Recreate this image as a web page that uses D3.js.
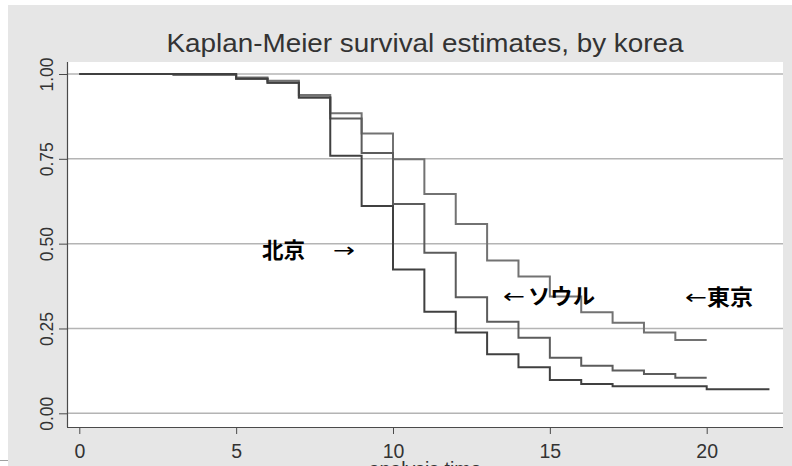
<!DOCTYPE html>
<html>
<head>
<meta charset="utf-8">
<script src="https://cdn.jsdelivr.net/npm/d3@7/dist/d3.min.js"></script>
<style>
  html, body { margin: 0; padding: 0; background: #ffffff; }
  svg { display: block; }
</style>
</head>
<body>
<script>
// Kaplan-Meier step estimates by group (time at which each step begins, survival after it)
const tokyoTimes   = [0, 3, 5, 6, 7, 8, 9, 10, 11, 12, 13, 14, 15, 16, 17, 18, 19];
const tokyoSurv    = [1.000, 0.997, 0.990, 0.980, 0.938, 0.884, 0.825, 0.749, 0.646, 0.558, 0.450, 0.403, 0.344, 0.298, 0.267, 0.238, 0.216];
const tokyoEnd     = 20;

const seoulTimes   = [0, 5, 6, 7, 8, 9, 10, 11, 12, 13, 14, 15, 16, 17, 18, 19];
const seoulSurv    = [1.000, 0.986, 0.974, 0.931, 0.869, 0.767, 0.617, 0.473, 0.342, 0.270, 0.223, 0.164, 0.140, 0.126, 0.116, 0.105];
const seoulEnd     = 20;

const beijingTimes = [0, 5, 6, 7, 8, 9, 10, 11, 12, 13, 14, 15, 16, 17, 20];
const beijingSurv  = [1.000, 0.986, 0.974, 0.931, 0.759, 0.611, 0.424, 0.299, 0.238, 0.174, 0.136, 0.098, 0.086, 0.080, 0.071];
const beijingEnd   = 22;

const xTicks = [0, 5, 10, 15, 20];
const yTicks = [0, 0.25, 0.5, 0.75, 1];

const W = 792, H = 466;
const plot = { left: 67, right: 783, top: 62, bottom: 427 };
const latin = "Liberation Sans, Arial, sans-serif";

const svg = d3.select("body").append("svg")
  .attr("width", W).attr("height", H);

// outer graph region
svg.append("rect").attr("x", 8).attr("y", 5).attr("width", W - 8).attr("height", H - 5)
  .attr("fill", "#e6e6e6");
svg.append("line").attr("x1", 0).attr("x2", 8).attr("y1", 460.5).attr("y2", 460.5)
  .attr("stroke", "#a0a0a0").attr("stroke-width", 1);

// plot region
svg.append("rect").attr("x", plot.left).attr("y", plot.top)
  .attr("width", plot.right - plot.left).attr("height", plot.bottom - plot.top)
  .attr("fill", "#ffffff");

const x = d3.scaleLinear().domain([0, 20]).range([79.3, 706.7]);
const y = d3.scaleLinear().domain([0, 1]).range([413.3, 74]);

// horizontal grid
svg.append("g").selectAll("line").data(yTicks).join("line")
  .attr("x1", plot.left).attr("x2", plot.right)
  .attr("y1", d => y(d)).attr("y2", d => y(d))
  .attr("stroke", "#b4b4b4").attr("stroke-width", 1.5);

// y axis
const yAxis = svg.append("g")
  .attr("transform", `translate(${plot.left},0)`)
  .call(d3.axisLeft(y).tickValues(yTicks).tickFormat(d3.format(".2f")).tickSize(8).tickPadding(6));
yAxis.select(".domain").attr("d", `M0.5,${plot.top}V${plot.bottom}`).attr("stroke", "#4a4a4a").attr("stroke-width", 1.2);
yAxis.selectAll(".tick line").attr("stroke", "#4a4a4a");
yAxis.selectAll(".tick text")
  .attr("font-family", latin)
  .attr("font-size", 19).attr("fill", "#333333")
  .attr("transform", "rotate(-90)")
  .attr("x", 0).attr("y", -14).attr("dy", 0)
  .attr("text-anchor", "middle")
  .attr("textLength", 34).attr("lengthAdjust", "spacingAndGlyphs");

// x axis
const xAxis = svg.append("g")
  .attr("transform", `translate(0,${plot.bottom})`)
  .call(d3.axisBottom(x).tickValues(xTicks).tickSize(7).tickPadding(6));
xAxis.select(".domain").attr("d", `M${plot.left},0.5H${plot.right}`).attr("stroke", "#4a4a4a").attr("stroke-width", 1.2);
xAxis.selectAll(".tick line").attr("stroke", "#4a4a4a");
xAxis.selectAll(".tick text")
  .attr("font-family", latin)
  .attr("font-size", 19.5).attr("fill", "#333333")
  .attr("dy", 0).attr("y", 30.5);

// survival curves
const series = [
  { times: tokyoTimes, surv: tokyoSurv, end: tokyoEnd, color: "#727272" },
  { times: seoulTimes, surv: seoulSurv, end: seoulEnd, color: "#5c5c5c" },
  { times: beijingTimes, surv: beijingSurv, end: beijingEnd, color: "#404040" }
];
const stepLine = d3.line().x(d => x(d[0])).y(d => y(d[1])).curve(d3.curveStepAfter);
series.forEach(s => {
  const pts = s.times.map((t, i) => [t, s.surv[i]]);
  pts.push([s.end, s.surv[s.surv.length - 1]]);
  svg.append("path").datum(pts)
    .attr("d", stepLine)
    .attr("fill", "none")
    .attr("stroke", s.color)
    .attr("stroke-width", 2);
});

// title
svg.append("text")
  .attr("x", (plot.left + plot.right) / 2).attr("y", 51.5)
  .attr("text-anchor", "middle")
  .attr("font-family", latin)
  .attr("font-size", 26).attr("fill", "#333333")
  .attr("textLength", 517).attr("lengthAdjust", "spacingAndGlyphs")
  .text("Kaplan-Meier survival estimates, by korea");

// x axis title
svg.append("text")
  .attr("x", (plot.left + plot.right) / 2).attr("y", 476)
  .attr("text-anchor", "middle")
  .attr("font-family", latin)
  .attr("font-size", 19.5).attr("fill", "#333333")
  .text("analysis time");

// group labels: names and pointer arrows
const cjk = "'Noto Sans CJK JP', 'Noto Sans CJK SC', sans-serif";
const names = [
  { text: "北京", x: 262, y: 258, w: 43 },
  { text: "ソウル", x: 528, y: 304, w: 67 },
  { text: "東京", x: 707, y: 305, w: 46 }
];
const arrows = [
  { text: "→", x: 333, y: 257 },
  { text: "←", x: 503, y: 303 },
  { text: "←", x: 685, y: 304 }
];
svg.append("g").selectAll("text").data(names).join("text")
  .attr("x", d => d.x).attr("y", d => d.y)
  .attr("font-family", cjk)
  .attr("font-weight", "bold")
  .attr("font-size", 22).attr("fill", "#000000")
  .attr("textLength", d => d.w).attr("lengthAdjust", "spacingAndGlyphs")
  .text(d => d.text);
svg.append("g").selectAll("text").data(arrows).join("text")
  .attr("x", d => d.x).attr("y", d => d.y)
  .attr("font-family", "DejaVu Sans, sans-serif")
  .attr("font-size", 20).attr("fill", "#000000")
  .attr("textLength", 22).attr("lengthAdjust", "spacingAndGlyphs")
  .text(d => d.text);
</script>
</body>
</html>
